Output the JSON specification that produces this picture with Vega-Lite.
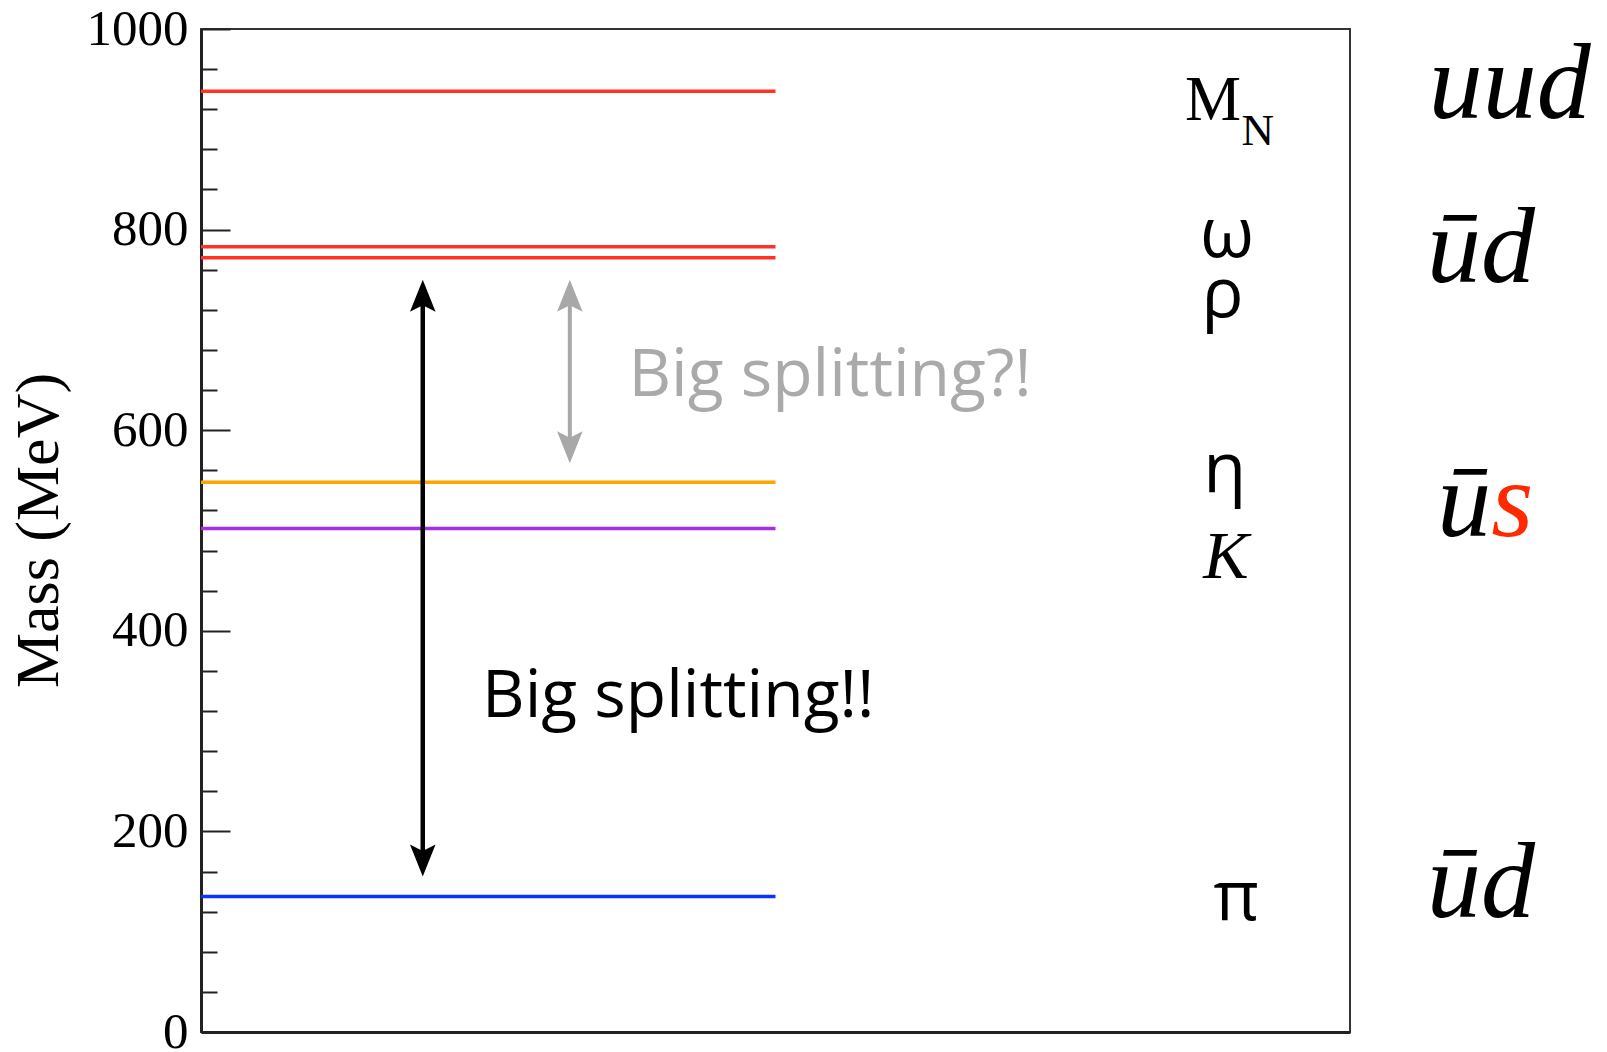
{
  "$schema": "https://vega.github.io/schema/vega-lite/v6.json",
  "width": 1149,
  "height": 1003,
  "autosize": {"type": "none"},
  "padding": {"left": 201, "top": 29, "right": 257, "bottom": 20},
  "background": "white",
  "config": {"view": {"stroke": "#333333", "strokeWidth": 2}},
  "datasets": {
    "levels": [
      {"particle": "N", "mass": 938, "start": 0, "end": 0.5},
      {"particle": "omega", "mass": 783, "start": 0, "end": 0.5},
      {"particle": "rho", "mass": 772, "start": 0, "end": 0.5},
      {"particle": "eta", "mass": 548, "start": 0, "end": 0.5},
      {"particle": "K", "mass": 502, "start": 0, "end": 0.5},
      {"particle": "pi", "mass": 135, "start": 0, "end": 0.5}
    ],
    "black_arrow": [{"x": 0.193, "low": 155, "high": 750}],
    "gray_arrow": [{"x": 0.321, "low": 567, "high": 750}],
    "greek": [
      {"label": "ω", "x": 0.893, "mass": 773},
      {"label": "ρ", "x": 0.889, "mass": 713},
      {"label": "η", "x": 0.891, "mass": 538},
      {"label": "π", "x": 0.901, "mass": 112}
    ],
    "mlabel": [{"label": "M", "x": 0.8564, "mass": 909}],
    "nlabel": [{"label": "N", "x": 0.9056, "mass": 884}],
    "klabel": [{"label": "K", "x": 0.892, "mass": 453}],
    "quarks": [
      {"label": "uud", "x": 1.139, "mass": 911},
      {"label": "ūd", "x": 1.114, "mass": 748},
      {"label": "ūd", "x": 1.114, "mass": 115}
    ],
    "ubar": [{"label": "ū", "x": 1.123, "mass": 495}],
    "squark": [{"label": "s", "x": 1.123, "mass": 495}],
    "note_black": [{"label": "Big splitting!!", "x": 0.2446, "mass": 314}],
    "note_gray": [{"label": "Big splitting?!", "x": 0.372, "mass": 634}]
  },
  "layer": [
    {
      "data": {"name": "levels"},
      "mark": {"type": "rule", "strokeWidth": 3.5},
      "encoding": {
        "x": {
          "field": "start", "type": "quantitative",
          "scale": {"domain": [0, 1], "nice": false, "zero": false},
          "axis": {"title": null, "labels": false, "ticks": false, "grid": false, "domainColor": "#222222", "domainWidth": 3}
        },
        "x2": {"field": "end"},
        "y": {
          "field": "mass", "type": "quantitative",
          "scale": {"domain": [0, 1000], "nice": false},
          "axis": {
            "title": "Mass (MeV)",
            "titleFont": "Liberation Serif", "titleFontSize": 62, "titleFontWeight": "normal", "titleColor": "black",
            "titleX": -163, "titleY": 501, "titleAngle": -90, "titleAlign": "center", "titleBaseline": "middle",
            "values": [0, 40, 80, 120, 160, 200, 240, 280, 320, 360, 400, 440, 480, 520, 560, 600, 640, 680, 720, 760, 800, 840, 880, 920, 960, 1000],
            "labelExpr": "datum.value % 200 === 0 ? datum.label : ''",
            "format": "d",
            "labelFont": "Liberation Serif", "labelFontSize": 51, "labelColor": "black",
            "labelFlush": false, "labelOverlap": false, "labelBound": false,
            "labelPadding": 42,
            "tickSize": {"condition": {"test": "datum.value % 200 === 0", "value": -29}, "value": -16},
            "tickColor": "#222222", "tickWidth": 2,
            "domainColor": "#222222", "domainWidth": 3, "grid": false
          }
        },
        "color": {
          "field": "particle", "type": "nominal", "legend": null,
          "scale": {"domain": ["N", "omega", "rho", "eta", "K", "pi"], "range": ["#ff3322", "#ff3322", "#ff3322", "#ffa500", "#a52ee6", "#0a33ff"]}
        }
      }
    },
    {
      "data": {"name": "black_arrow"},
      "mark": {"type": "rule", "color": "black", "strokeWidth": 4.5, "yOffset": -15, "y2Offset": 15},
      "encoding": {"x": {"field": "x", "type": "quantitative"}, "y": {"field": "low", "type": "quantitative"}, "y2": {"field": "high"}}
    },
    {
      "data": {"name": "black_arrow"},
      "mark": {"type": "point", "filled": true, "color": "black", "opacity": 1, "size": 1024, "shape": "M0,0L-0.8,2L0,1.6L0.8,2Z"},
      "encoding": {"x": {"field": "x", "type": "quantitative"}, "y": {"field": "high", "type": "quantitative"}}
    },
    {
      "data": {"name": "black_arrow"},
      "mark": {"type": "point", "filled": true, "color": "black", "opacity": 1, "size": 1024, "shape": "M0,0L-0.8,-2L0,-1.6L0.8,-2Z"},
      "encoding": {"x": {"field": "x", "type": "quantitative"}, "y": {"field": "low", "type": "quantitative"}}
    },
    {
      "data": {"name": "gray_arrow"},
      "mark": {"type": "rule", "color": "#a8a8a8", "strokeWidth": 4, "yOffset": -15, "y2Offset": 15},
      "encoding": {"x": {"field": "x", "type": "quantitative"}, "y": {"field": "low", "type": "quantitative"}, "y2": {"field": "high"}}
    },
    {
      "data": {"name": "gray_arrow"},
      "mark": {"type": "point", "filled": true, "color": "#a8a8a8", "opacity": 1, "size": 1024, "shape": "M0,0L-0.8,2L0,1.6L0.8,2Z"},
      "encoding": {"x": {"field": "x", "type": "quantitative"}, "y": {"field": "high", "type": "quantitative"}}
    },
    {
      "data": {"name": "gray_arrow"},
      "mark": {"type": "point", "filled": true, "color": "#a8a8a8", "opacity": 1, "size": 1024, "shape": "M0,0L-0.8,-2L0,-1.6L0.8,-2Z"},
      "encoding": {"x": {"field": "x", "type": "quantitative"}, "y": {"field": "low", "type": "quantitative"}}
    },
    {
      "data": {"name": "greek"},
      "mark": {"type": "text", "font": "Open Sans", "fontSize": 70, "color": "black", "align": "center", "baseline": "alphabetic"},
      "encoding": {"x": {"field": "x", "type": "quantitative"}, "y": {"field": "mass", "type": "quantitative"}, "text": {"field": "label"}}
    },
    {
      "data": {"name": "mlabel"},
      "mark": {"type": "text", "font": "Liberation Serif", "fontSize": 63, "color": "black", "align": "left", "baseline": "alphabetic"},
      "encoding": {"x": {"field": "x", "type": "quantitative"}, "y": {"field": "mass", "type": "quantitative"}, "text": {"field": "label"}}
    },
    {
      "data": {"name": "nlabel"},
      "mark": {"type": "text", "font": "Liberation Serif", "fontSize": 45, "color": "black", "align": "left", "baseline": "alphabetic"},
      "encoding": {"x": {"field": "x", "type": "quantitative"}, "y": {"field": "mass", "type": "quantitative"}, "text": {"field": "label"}}
    },
    {
      "data": {"name": "klabel"},
      "mark": {"type": "text", "font": "Liberation Serif", "fontStyle": "italic", "fontSize": 68, "color": "black", "align": "center", "baseline": "alphabetic"},
      "encoding": {"x": {"field": "x", "type": "quantitative"}, "y": {"field": "mass", "type": "quantitative"}, "text": {"field": "label"}}
    },
    {
      "data": {"name": "quarks"},
      "mark": {"type": "text", "font": "Liberation Serif", "fontStyle": "italic", "fontSize": 108, "color": "black", "align": "center", "baseline": "alphabetic"},
      "encoding": {"x": {"field": "x", "type": "quantitative"}, "y": {"field": "mass", "type": "quantitative"}, "text": {"field": "label"}}
    },
    {
      "data": {"name": "ubar"},
      "mark": {"type": "text", "font": "Liberation Serif", "fontStyle": "italic", "fontSize": 108, "color": "black", "align": "right", "baseline": "alphabetic"},
      "encoding": {"x": {"field": "x", "type": "quantitative"}, "y": {"field": "mass", "type": "quantitative"}, "text": {"field": "label"}}
    },
    {
      "data": {"name": "squark"},
      "mark": {"type": "text", "font": "Liberation Serif", "fontStyle": "italic", "fontSize": 108, "color": "#ff2a00", "align": "left", "baseline": "alphabetic"},
      "encoding": {"x": {"field": "x", "type": "quantitative"}, "y": {"field": "mass", "type": "quantitative"}, "text": {"field": "label"}}
    },
    {
      "data": {"name": "note_black"},
      "mark": {"type": "text", "font": "Open Sans", "fontSize": 66, "color": "black", "align": "left", "baseline": "alphabetic"},
      "encoding": {"x": {"field": "x", "type": "quantitative"}, "y": {"field": "mass", "type": "quantitative"}, "text": {"field": "label"}}
    },
    {
      "data": {"name": "note_gray"},
      "mark": {"type": "text", "font": "Open Sans", "fontSize": 66, "color": "#aaaaaa", "align": "left", "baseline": "alphabetic"},
      "encoding": {"x": {"field": "x", "type": "quantitative"}, "y": {"field": "mass", "type": "quantitative"}, "text": {"field": "label"}}
    }
  ]
}
